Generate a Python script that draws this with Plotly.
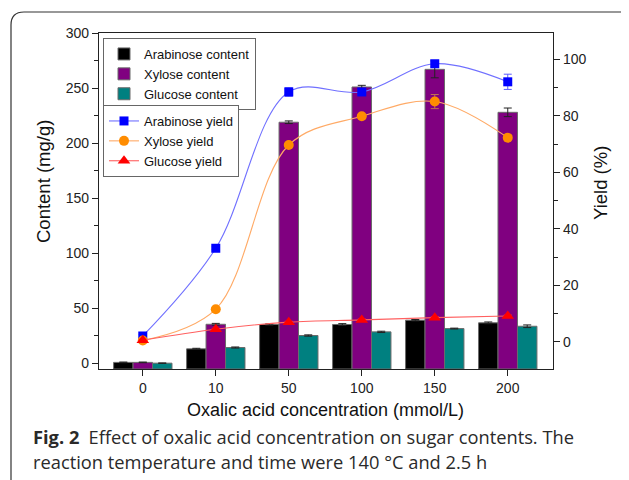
import plotly.graph_objects as go

# ---------------- data ----------------
concentrations = ["0", "10", "50", "100", "150", "200"]

arabinose_content = [1.0, 13.3, 35.4, 35.4, 39.3, 36.9]
xylose_content = [1.0, 35.6, 219.0, 251.0, 267.0, 228.0]
glucose_content = [0.3, 14.5, 25.4, 28.7, 31.7, 33.8]
arabinose_content_err = [0.3, 0.5, 0.6, 0.8, 0.6, 0.8]
xylose_content_err = [0.3, 0.8, 1.2, 1.5, 7.7, 3.9]
glucose_content_err = [0.2, 0.5, 0.6, 0.6, 0.4, 1.2]

arabinose_yield = [2.0, 33.1, 88.5, 88.5, 98.5, 92.1]
xylose_yield = [0.4, 11.5, 69.7, 79.9, 85.1, 72.3]
glucose_yield = [0.5, 4.4, 6.9, 7.7, 8.5, 9.1]
arabinose_yield_err = [0.5, 0.5, 1.5, 1.0, 1.0, 2.7]
xylose_yield_err = [0.3, 0.5, 0.5, 0.5, 2.5, 0.8]
glucose_yield_err = [0.3, 0.3, 0.3, 0.3, 0.3, 0.3]

# ---------------- layout geometry (screen pixels) ----------------
W, H = 629, 480
PAGE_OFF = 8                      # default body margin of the html page
L, R, T, B = 99, 553, 33, 369     # plot area on screen
Y1_MIN, Y1_MAX = -5, 300
Y2_MIN, Y2_MAX = -9.7, 109.4
BAR_BASE = Y1_MIN

def px(x):
    return (x - L) / (R - L)

def py(y):
    return (B - y) / (B - T)

FONT = "Liberation Sans"
CAP_FONT = "Open Sans"

fig = go.Figure()

def add_bar(name, vals, errs, color):
    fig.add_trace(go.Bar(
        name=name, x=concentrations,
        y=[v - BAR_BASE for v in vals], base=BAR_BASE,
        marker=dict(color=color, line=dict(color="#6b6b6b", width=1)),
        error_y=dict(type="data", array=errs, color="#222", thickness=1, width=4),
        legend="legend",
    ))

add_bar("Arabinose content", arabinose_content, arabinose_content_err, "#000000")
add_bar("Xylose content", xylose_content, xylose_content_err, "#800080")
add_bar("Glucose content", glucose_content, glucose_content_err, "#008080")

def add_line(name, vals, errs, lcolor, mcolor, symbol, size, ecolor):
    fig.add_trace(go.Scatter(
        name=name, x=concentrations, y=vals, yaxis="y2",
        mode="lines+markers",
        line=dict(color=lcolor, width=1.1, shape="spline", smoothing=1.0),
        marker=dict(color=mcolor, symbol=symbol, size=size),
        error_y=dict(type="data", array=errs, color=ecolor, thickness=1, width=4),
        legend="legend2",
    ))

add_line("Arabinose yield", arabinose_yield, arabinose_yield_err,
         "#7070ff", "#0000ff", "square", 9, "#5a5aff")
add_line("Xylose yield", xylose_yield, xylose_yield_err,
         "#ffaa66", "#ff8c00", "circle", 10, "#c07050")
add_line("Glucose yield", glucose_yield, glucose_yield_err,
         "#ff6060", "#ff0000", "triangle-up", 11, "#ff4040")

axis_common = dict(
    showline=True, linecolor="#222", linewidth=1.3, showgrid=False,
    zeroline=False, ticks="outside", tickcolor="#222", ticklen=6,
    tickwidth=1.2, tickfont=dict(family=FONT, size=14, color="#222"),
)

legend_common = dict(xanchor="left", yanchor="top", bgcolor="white",
                     bordercolor="#666", borderwidth=1,
                     font=dict(family=FONT, size=13, color="#111"),
                     tracegroupgap=0, itemwidth=30, entrywidthmode="pixels")

fig.update_layout(
    width=W, height=H,
    font=dict(family=FONT),
    margin=dict(l=L - PAGE_OFF, r=W - (R - PAGE_OFF), t=T - PAGE_OFF,
                b=H - (B - PAGE_OFF), pad=0, autoexpand=False),
    paper_bgcolor="white", plot_bgcolor="white",
    barmode="group", bargap=0.2, bargroupgap=0.0,
    xaxis=dict(type="category", range=[-0.6, 5.62], mirror=True, **axis_common),
    yaxis=dict(range=[Y1_MIN, Y1_MAX], tickmode="array",
               tickvals=[0, 50, 100, 150, 200, 250, 300],
               minor=dict(tickvals=[25, 75, 125, 175, 225, 275], ticks="outside",
                          ticklen=4, tickcolor="#222"),
               **axis_common),
    yaxis2=dict(range=[Y2_MIN, Y2_MAX], overlaying="y", side="right",
                tickmode="array", tickvals=[0, 20, 40, 60, 80, 100],
                minor=dict(tickvals=[10, 30, 50, 70, 90], ticks="outside",
                           ticklen=4, tickcolor="#222"),
                **axis_common),
    legend=dict(x=px(103), y=py(38), entrywidth=118, **legend_common),
    legend2=dict(x=px(103), y=py(105), entrywidth=100, **legend_common),
    showlegend=True,
)

ann = []
ann.append(dict(text="Content (mg/g)", x=px(43), y=py(182), xref="paper", yref="paper",
                textangle=-90, showarrow=False, xanchor="center", yanchor="middle",
                font=dict(family=FONT, size=18.5, color="#111")))
ann.append(dict(text="Yield (%)", x=px(600), y=py(183), xref="paper", yref="paper",
                textangle=-90, showarrow=False, xanchor="center", yanchor="middle",
                font=dict(family=FONT, size=18.5, color="#111")))
ann.append(dict(text="Oxalic acid concentration (mmol/L)", x=px(325), y=py(410),
                xref="paper", yref="paper", showarrow=False, xanchor="center",
                yanchor="middle", font=dict(family=FONT, size=18, color="#111")))
ann.append(dict(text="<b>Fig. 2</b>\u2002Effect of oxalic acid concentration on sugar contents. The",
                x=px(31), y=py(436), xref="paper", yref="paper", showarrow=False,
                xanchor="left", yanchor="middle",
                font=dict(family=CAP_FONT, size=18.3, color="#2a2a2a")))
ann.append(dict(text="reaction temperature and time were 140 °C and 2.5 h",
                x=px(31), y=py(461), xref="paper", yref="paper", showarrow=False,
                xanchor="left", yanchor="middle",
                font=dict(family=CAP_FONT, size=18.3, color="#2a2a2a")))
fig.update_layout(annotations=ann)

# figure frame (left and top edges with rounded corner)
frame = (f"M {px(11)},{py(490)} L {px(11)},{py(25)} "
         f"Q {px(11)},{py(12)} {px(24)},{py(12)} L {px(640)},{py(12)}")
fig.add_shape(type="path", path=frame, xref="paper", yref="paper",
              line=dict(color="#333", width=1.2))

fig.write_html("out.html")
